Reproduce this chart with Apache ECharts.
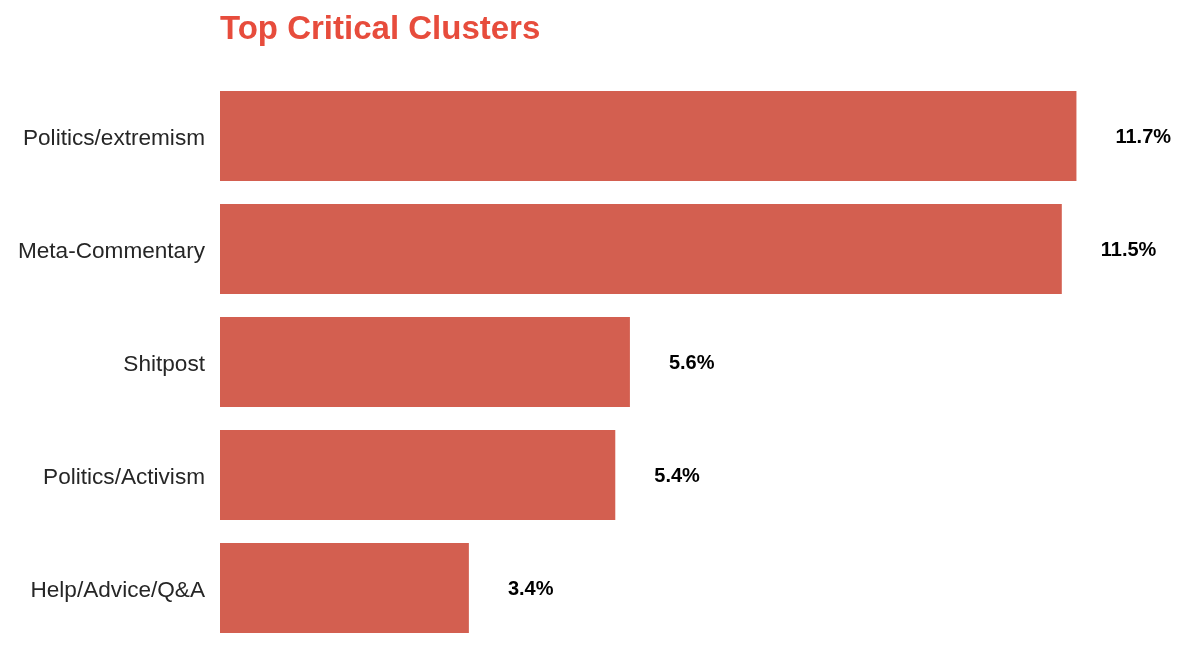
<!DOCTYPE html>
<html>
<head>
<meta charset="utf-8">
<title>Top Critical Clusters</title>
<script src="https://cdn.jsdelivr.net/npm/echarts@6/dist/echarts.min.js"></script>
<style>
  html, body { margin: 0; padding: 0; background: #fff; }
  #main { width: 1185px; height: 659px; }
</style>
</head>
<body>
<div id="main"></div>
<script>
// cluster names, top to bottom
var categories = ['Politics/extremism', 'Meta-Commentary', 'Shitpost', 'Politics/Activism', 'Help/Advice/Q&A'];
// share of critical posts, in percent
var shares = [11.7, 11.5, 5.6, 5.4, 3.4];

var FONT = '"Liberation Sans", Arial, Helvetica, sans-serif';

var chart = echarts.init(document.getElementById('main'));
chart.setOption({
  animation: false,
  backgroundColor: '#fff',
  title: {
    text: 'Top Critical Clusters',
    left: 215,
    top: 8,
    textStyle: { color: '#e74c3c', fontSize: 33, fontWeight: 'bold', fontFamily: FONT }
  },
  grid: { left: 220, right: 13.4, top: 79.5, bottom: 14.5, containLabel: false },
  xAxis: {
    type: 'value',
    min: 0,
    max: 13,
    show: false
  },
  yAxis: {
    type: 'category',
    data: categories,
    inverse: true,
    axisLine: { show: false },
    axisTick: { show: false },
    splitLine: { show: false },
    axisLabel: {
      margin: 15,
      color: '#262626',
      fontSize: 22.6,
      fontFamily: FONT,
      // nudge the names a few px below the band centre, as in the original
      verticalAlign: 'top',
      lineHeight: 6
    }
  },
  series: [{
    type: 'bar',
    data: shares,
    barWidth: 90,
    itemStyle: { color: '#d35f50' },
    label: {
      show: true,
      position: 'right',
      distance: 39,
      offset: [0, 1],
      color: '#000',
      fontSize: 20,
      fontWeight: 'bold',
      fontFamily: FONT,
      formatter: function (p) { return p.value.toFixed(1) + '%'; }
    }
  }]
});
</script>
</body>
</html>
